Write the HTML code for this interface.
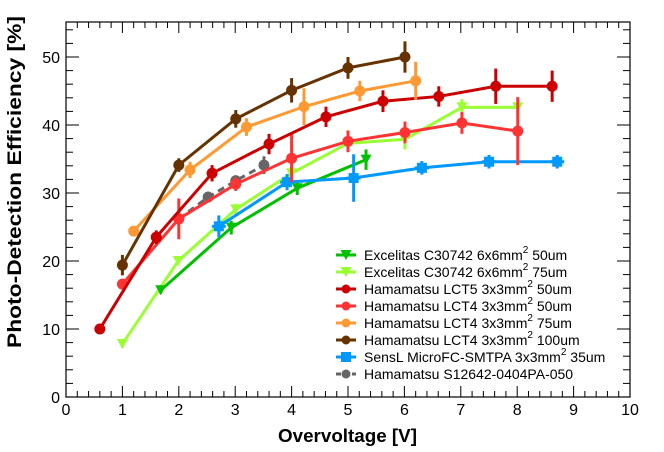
<!DOCTYPE html>
<html><head><meta charset="utf-8"><style>
body{margin:0;background:#fff;}
svg{display:block;font-family:"Liberation Sans",Arial,sans-serif;}
</style></head><body>
<svg id="chart" width="664" height="452" viewBox="0 0 664 452"></svg>
<script>
const xTicks=[0,1,2,3,4,5,6,7,8,9,10];
const yTicks=[0,10,20,30,40,50];
const seriesNames=["Excelitas C30742 6x6mm² 50um","Excelitas C30742 6x6mm² 75um","Hamamatsu LCT5 3x3mm² 50um","Hamamatsu LCT4 3x3mm² 50um","Hamamatsu LCT4 3x3mm² 75um","Hamamatsu LCT4 3x3mm² 100um","SensL MicroFC-SMTPA 3x3mm² 35um","Hamamatsu S12642-0404PA-050"];
const exc50X=[1.68,2.93,4.1,5.32];
const exc50Y=[15.7,24.9,30.7,34.9];
const exc50E=[0.5,1,1,1.5];
const exc75X=[1.0,1.99,3.01,4.0,5.0,6.01,7.02,8.01];
const exc75Y=[7.8,20,27.6,32.9,37.3,37.9,42.6,42.6];
const exc75E=[0.5,0.5,0.8,1,1,1.5,1.2,1];
const lct5X=[0.6,1.6,2.59,3.6,4.61,5.62,6.61,7.62,8.62];
const lct5Y=[10,23.5,32.9,37.2,41.2,43.5,44.2,45.7,45.7];
const lct5E=[0.4,1,1.2,1.5,1.5,1.6,1.5,2.6,2.3];
const lct4aX=[1.0,2.0,3.01,4.0,5.0,6.01,7.02,8.01];
const lct4aY=[16.6,26.2,31.3,35.1,37.6,38.9,40.3,39.1];
const lct4aE=[0.5,3,1,3.5,1.6,1.6,1.6,5];
const lct4bX=[1.2,2.2,3.2,4.22,5.21,6.2];
const lct4bY=[24.4,33.4,39.7,42.7,45,46.5];
const lct4bE=[0.5,1.2,1.3,2.7,1.5,2.8];
const lct4cX=[1.0,2.0,3.01,4.0,5.0,6.01];
const lct4cY=[19.4,34.1,40.9,45.1,48.4,50];
const lct4cE=[1.5,1,1.3,1.8,1.6,2.3];
const senslX=[2.71,3.92,5.1,6.31,7.5,8.71];
const senslY=[25.1,31.6,32.2,33.7,34.6,34.6];
const senslE=[1.6,1.2,3.5,1,1,1];
const s12642X=[2.0,2.52,3.01,3.51];
const s12642Y=[26.2,29.4,31.8,34.1];
const s12642E=[0.8,0.8,0.8,1.3];

const NS="http://www.w3.org/2000/svg";
const svg=document.getElementById('chart');
const L=66,R=630,T=22,B=397;
const sx=v=>L+v*(R-L)/10;
const sy=v=>B-v*6.8;
function mk(tag,attrs,parent){const e=document.createElementNS(NS,tag);for(const k in attrs)e.setAttribute(k,attrs[k]);(parent||svg).appendChild(e);return e;}

const frame=mk('rect',{x:L,y:T,width:R-L,height:B-T,fill:'none',stroke:'#000','stroke-width':1.2});


for(let i=0;i<=50;i++){
  const v=i/5,x=sx(v),len=(i%5===0)?11:6;
  mk('line',{x1:x,y1:B,x2:x,y2:B-len,stroke:'#000','stroke-width':1});
  mk('line',{x1:x,y1:T,x2:x,y2:T+len,stroke:'#000','stroke-width':1});
}
xTicks.forEach(v=>{const t=mk('text',{x:sx(v),y:B+18,'font-size':16,'text-anchor':'middle'});t.textContent=v;

});
for(let i=0;i<=55;i+=2){
  const y=sy(i),len=(i%10===0)?13:7;
  mk('line',{x1:L,y1:y,x2:L+len,y2:y,stroke:'#000','stroke-width':1});
  mk('line',{x1:R,y1:y,x2:R-len,y2:y,stroke:'#000','stroke-width':1});
}
yTicks.forEach(v=>{const t=mk('text',{x:L-6,y:sy(v)+6,'font-size':16,'text-anchor':'end'});t.textContent=v;

});
const xt=mk('text',{x:278,y:442,'font-size':18,'font-weight':'bold',textLength:139,lengthAdjust:'spacingAndGlyphs'});xt.textContent='Overvoltage [V]';


const yt=mk('text',{x:0,y:0,'font-size':19,'font-weight':'bold',textLength:332,lengthAdjust:'spacingAndGlyphs',transform:'translate(21,348) rotate(-90)'});yt.textContent='Photo-Detection Efficiency [%]';



function marker(g,type,x,y,c,s){
  if(type==='tri') mk('path',{d:`M${x-5.5},${y-5} L${x+5.5},${y-5} L${x},${y+5} Z`,fill:c},g);
  else if(type==='sq') mk('rect',{x:x-5,y:y-5,width:10,height:10,fill:c},g);
  else mk('circle',{cx:x,cy:y,r:s||5.5,fill:c},g);
}
const series=[
 [exc50X,exc50Y,exc50E,'#00c000','tri',false],
 [exc75X,exc75Y,exc75E,'#99ff33','tri',false],
 [lct5X,lct5Y,lct5E,'#cc0000','c',false],
 [lct4aX,lct4aY,lct4aE,'#ff3333','c',false],
 [lct4bX,lct4bY,lct4bE,'#ff9933','c',false],
 [lct4cX,lct4cY,lct4cE,'#663300','c',false],
 [senslX,senslY,senslE,'#0099ff','sq',false],
 [s12642X,s12642Y,s12642E,'#666666','c',true]
];
const order=[1,0,6,7,3,2,4,5];
order.forEach(si=>{
  const [X,Y,E,c,type,dash]=series[si];
  const g=mk('g',{});
  
  
  const pts=X.map((v,i)=>sx(v)+','+sy(Y[i])).join(' ');
  mk('polyline',{points:pts,fill:'none',stroke:c,'stroke-width':3,'stroke-dasharray':dash?'7,5':'none'},g);
  X.forEach((v,i)=>{
    const x=sx(v),y=sy(Y[i]);
    mk('line',{x1:x,y1:sy(Y[i]-E[i]),x2:x,y2:sy(Y[i]+E[i]),stroke:c,'stroke-width':3},g);
    if(type==='sq') mk('line',{x1:x-7,y1:y,x2:x+7,y2:y,stroke:c,'stroke-width':3},g);
    marker(g,type,x,y,c);
  });
});
const leg=mk('g',{});


seriesNames.forEach((n,i)=>{
  const [X,Y,E,c,type,dash]=series[i];
  const y=255+i*17;
  const e=mk('g',{},leg);
  
  
  mk('line',{x1:336,y1:y,x2:356,y2:y,stroke:c,'stroke-width':3,'stroke-dasharray':dash?'5,3':'none'},e);
  marker(e,type,346,y,c,4.5);
  const parts=n.split('²');
  const t=mk('text',{x:364,y:y+5,'font-size':14},e);
  t.textContent=parts[0];
  if(parts.length>1){const s=mk('tspan',{dy:-7,'font-size':10},t);s.textContent='2';const r=mk('tspan',{dy:7},t);r.textContent=parts[1];}
});
</script>
</body></html>
